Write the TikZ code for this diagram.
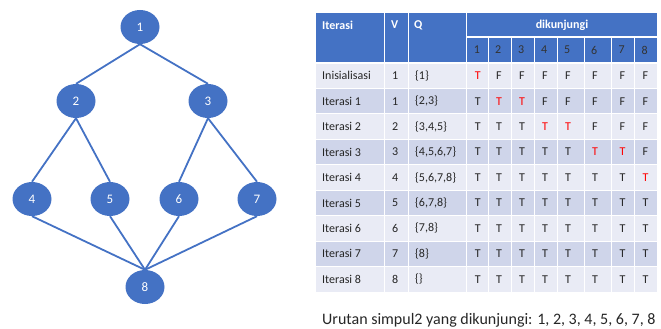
\documentclass[tikz,border=0pt]{standalone}
\usepackage{fontspec}
\setmainfont{Carlito}
\usetikzlibrary{shapes.geometric}
\definecolor{hdr}{HTML}{4472C4}
\definecolor{rowA}{HTML}{E9EBF5}
\definecolor{rowB}{HTML}{CFD5EA}
\definecolor{txtred}{HTML}{FF0000}
\definecolor{txtdark}{HTML}{262626}
\newcommand\RT{\textcolor{txtred}{T}}
\begin{document}
\begin{tikzpicture}[x=1pt,y=-1pt,
  vert/.style={ellipse, fill=hdr, minimum width=39pt, minimum height=34pt, inner sep=0pt, text=white, font=\fontsize{13}{15}\selectfont},
  edge/.style={draw=hdr, line width=1.8pt},
  cell/.style={anchor=west, inner sep=0pt, font=\fontsize{12}{14}\selectfont, text=txtdark},
  hcell/.style={anchor=west, inner sep=0pt, font=\bfseries\fontsize{12}{14}\selectfont, text=white},
  subcell/.style={anchor=west, inner sep=0pt, font=\fontsize{12}{14}\selectfont, text=black!80},
  grid/.style={draw=white, line width=1pt}]
\useasboundingbox (0,0) rectangle (661,329);

% graph
\node[vert] (n1) at (140,27) {1};
\node[vert] (n2) at (76,101) {2};
\node[vert] (n3) at (208,101) {3};
\node[vert] (n4) at (32,199) {4};
\node[vert] (n5) at (110,199) {5};
\node[vert] (n6) at (179,199) {6};
\node[vert] (n7) at (257,199) {7};
\node[vert] (n8) at (145,287) {8};
\draw[edge] (n1.south) -- (n2.north);
\draw[edge] (n1.south) -- (n3.north);
\draw[edge] (n2.south) -- (n4.north);
\draw[edge] (n2.south) -- (n5.north);
\draw[edge] (n3.south) -- (n6.north);
\draw[edge] (n3.south) -- (n7.north);
\draw[edge] (n4.south) -- (n8.north);
\draw[edge] (n5.south) -- (n8.north);
\draw[edge] (n6.south) -- (n8.north);
\draw[edge] (n7.south) -- (n8.north);

% table backgrounds
\fill[hdr] (316,13) rectangle (657,63);
\foreach \i/\c in {0/rowA,1/rowB,2/rowA,3/rowB,4/rowA,5/rowB,6/rowA,7/rowB,8/rowA}{
  \fill[\c] (316,{63+25.44*\i}) rectangle (657,{63+25.44*(\i+1)});
}
% grid lines
\foreach \x in {384.5,408,466.7}{
  \draw[grid] (\x,13) -- (\x,292);
}
\foreach \x in {488,511,534,557,584,611.5,634.5}{
  \draw[grid] (\x,37) -- (\x,292);
}
\draw[draw=white, line width=1.6pt] (466.7,37) -- (657,37);
\draw[draw=white, line width=2.2pt] (316,63) -- (657,63);
\foreach \i in {1,...,8}{
  \draw[grid] (316,{63+25.44*\i}) -- (657,{63+25.44*\i});
}

% header text
\node[hcell] (hIt) at (322,25) {Iterasi};
\node[hcell] (hV) at (391,25) {V};
\node[hcell] (hQ) at (414,25) {Q};
\node[hcell, anchor=center] (hD) at (562,25) {dikunjungi};
\def\colx{{466.7,488,511,534,557,584,611.5,634.5}}
\foreach \c in {1,...,8}{
  \pgfmathsetmacro\xx{\colx[\c-1]+7}
  \node[subcell] (s\c) at (\xx,50) {\c};
}

% data rows
\foreach \r/\name/\v/\q/\vals in {
  0/Inisialisasi/1/{\{1\}}/{\RT,F,F,F,F,F,F,F},
  1/Iterasi 1/1/{\{2,3\}}/{T,\RT,\RT,F,F,F,F,F},
  2/Iterasi 2/2/{\{3,4,5\}}/{T,T,T,\RT,\RT,F,F,F},
  3/Iterasi 3/3/{\{4,5,6,7\}}/{T,T,T,T,T,\RT,\RT,F},
  4/Iterasi 4/4/{\{5,6,7,8\}}/{T,T,T,T,T,T,T,\RT},
  5/Iterasi 5/5/{\{6,7,8\}}/{T,T,T,T,T,T,T,T},
  6/Iterasi 6/6/{\{7,8\}}/{T,T,T,T,T,T,T,T},
  7/Iterasi 7/7/{\{8\}}/{T,T,T,T,T,T,T,T},
  8/Iterasi 8/8/{\{\}}/{T,T,T,T,T,T,T,T}}{
  \pgfmathsetmacro\yy{63+25.44*(\r+0.5)}
  \node[cell] (r\r name) at (322,\yy) {\name};
  \node[cell] (r\r v) at (392,\yy) {\v};
  \node[cell] (r\r q) at (415,\yy) {\q};
  \foreach \t [count=\c] in \vals{
    \pgfmathsetmacro\xx{\colx[\c-1]+8}
    \node[cell] (r\r c\c) at (\xx,\yy) {\t};
  }
}

% caption
\node[anchor=base west, inner sep=0pt, font=\fontsize{16}{19}\selectfont, text=txtdark] (caption) at (322,324.5) {Urutan simpul2 yang dikunjungi: 1, 2, 3, 4, 5, 6, 7, 8};
\end{tikzpicture}
\end{document}
